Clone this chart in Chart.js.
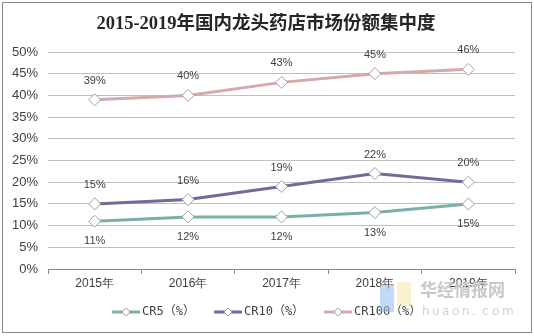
<!DOCTYPE html>
<html>
<head>
<meta charset="utf-8">
<script src="https://cdn.jsdelivr.net/npm/chart.js@4/dist/chart.umd.min.js"></script>
<style>
  html, body { margin: 0; padding: 0; background: #fff; }
  #wrap { width: 534px; height: 336px; }
</style>
</head>
<body>
<div id="wrap"><canvas id="grafico" width="534" height="336"></canvas></div>
<script>
// Datos: concentración del mercado de farmacias (CR5 / CR10 / CR100)
var anios = ['2015年', '2016年', '2017年', '2018年', '2019年'];
var cr5 = [11, 12, 12, 13, 15];
var cr10 = [15, 16, 19, 22, 20];
var cr100 = [39, 40, 43, 45, 46];
var nombres = ['CR5（%）', 'CR10（%）', 'CR100（%）'];
var ticksY = [0, 5, 10, 15, 20, 25, 30, 35, 40, 45, 50];

var colores = ['#7ab0aa', '#6b6e96', '#d5a9aa'];
var titulo = '2015-2019年国内龙头药店市场份额集中度';

function serie(nombre, datos, color, abajo) {
  return {
    label: nombre,
    data: datos,
    borderColor: color,
    backgroundColor: '#ffffff',
    borderWidth: 3,
    pointStyle: 'rectRot',
    pointRadius: 6,
    pointBorderColor: '#a0a0a0',
    pointBorderWidth: 1,
    pointBackgroundColor: '#ffffff',
    tension: 0,
    etiquetaAbajo: abajo
  };
}

// Marco, título, etiquetas de valor, leyenda y marca de agua
var decoracion = {
  id: 'decoracion',
  beforeDraw: function (chart) {
    var ctx = chart.ctx;
    ctx.save();
    ctx.fillStyle = '#ffffff';
    ctx.fillRect(0, 0, chart.width, chart.height);
    ctx.strokeStyle = '#8a8a8a';
    ctx.lineWidth = 1;
    ctx.strokeRect(2.5, 2.5, 529, 330);
    ctx.restore();
  },
  afterDatasetsDraw: function (chart) {
    var ctx = chart.ctx;
    ctx.save();
    // título
    ctx.fillStyle = '#262626';
    ctx.font = 'bold 18.5px "Liberation Serif", "Noto Sans CJK SC", serif';
    ctx.textAlign = 'center';
    ctx.textBaseline = 'middle';
    ctx.fillText(titulo, 266, 24);

    // etiquetas de valor
    ctx.font = '11px "Liberation Sans", Arial, sans-serif';
    ctx.fillStyle = '#404040';
    chart.data.datasets.forEach(function (ds, i) {
      var meta = chart.getDatasetMeta(i);
      meta.data.forEach(function (p, j) {
        var dy = ds.etiquetaAbajo ? 20 : -19;
        ctx.fillText(ds.data[j] + '%', p.x, p.y + dy);
      });
    });

    // leyenda
    var xs = [112, 214, 324];
    var yl = 312;
    ctx.font = '12px "DejaVu Sans Mono", "Noto Sans CJK SC", monospace';
    ctx.textAlign = 'left';
    chart.data.datasets.forEach(function (ds, i) {
      var x0 = xs[i];
      ctx.strokeStyle = ds.borderColor;
      ctx.lineWidth = 3;
      ctx.beginPath();
      ctx.moveTo(x0, yl);
      ctx.lineTo(x0 + 28, yl);
      ctx.stroke();
      var cx = x0 + 14;
      ctx.fillStyle = '#ffffff';
      ctx.strokeStyle = '#a0a0a0';
      ctx.lineWidth = 1;
      ctx.beginPath();
      ctx.moveTo(cx, yl - 4);
      ctx.lineTo(cx + 4, yl);
      ctx.lineTo(cx, yl + 4);
      ctx.lineTo(cx - 4, yl);
      ctx.closePath();
      ctx.fill();
      ctx.stroke();
      ctx.fillStyle = '#404040';
      ctx.fillText(ds.label, x0 + 30, yl);
    });

    // marca de agua
    ctx.globalAlpha = 0.55;
    ctx.fillStyle = '#8fb8f0';
    ctx.fillRect(380, 285, 14, 27);
    ctx.fillStyle = '#f6e6a6';
    ctx.fillRect(397, 282, 14, 24);
    ctx.globalAlpha = 1;
    ctx.fillStyle = '#c8c8c8';
    ctx.font = 'bold 17px "Noto Sans CJK SC", sans-serif';
    ctx.fillText('华经情报网', 420, 290);
    ctx.font = '12px "DejaVu Sans", sans-serif';
    ctx.fillStyle = '#d0d0d0';
    var letras = 'huaon.com';
    for (var k = 0; k < letras.length; k++) {
      ctx.fillText(letras[k], 422 + k * 10, 312);
    }
    ctx.restore();
  }
};

var config = {
  type: 'line',
  data: {
    labels: anios,
    datasets: [
      serie(nombres[0], cr5, colores[0], true),
      serie(nombres[1], cr10, colores[1], false),
      serie(nombres[2], cr100, colores[2], false)
    ]
  },
  options: {
    responsive: false,
    animation: false,
    layout: { padding: { top: 52, right: 19, bottom: 45, left: 0 } },
    plugins: {
      legend: { display: false },
      title: { display: false },
      tooltip: { enabled: false }
    },
    scales: {
      x: {
        offset: true,
        grid: {
          offset: true,
          drawOnChartArea: false,
          drawTicks: true,
          tickLength: 5,
          color: '#8a8a8a'
        },
        border: { color: '#8a8a8a', width: 1 },
        ticks: {
          color: '#404040',
          font: { size: 12, family: '"Liberation Sans", Arial, sans-serif' },
          padding: 2
        },
        afterFit: function (escala) { escala.height = 22; }
      },
      y: {
        min: 0,
        max: 50,
        afterBuildTicks: function (escala) {
          escala.ticks = ticksY.map(function (v) { return { value: v }; });
        },
        grid: { color: '#bfbfbf', drawTicks: false },
        border: { display: false },
        ticks: {
          color: '#404040',
          font: { size: 13, family: '"Liberation Sans", Arial, sans-serif' },
          padding: 10,
          callback: function (v) { return v + '%'; }
        },
        afterFit: function (escala) { escala.width = 48; }
      }
    }
  },
  plugins: [decoracion]
};

var graficoCtx = document.getElementById('grafico').getContext('2d');
var grafico = new Chart(graficoCtx, config);
</script>
</body>
</html>
